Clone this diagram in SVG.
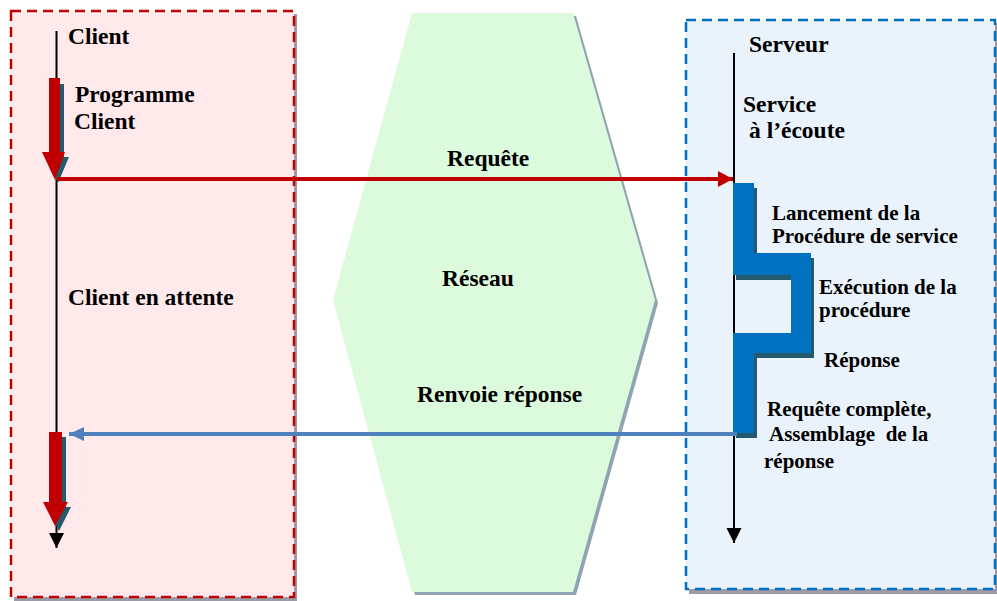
<svg xmlns="http://www.w3.org/2000/svg" width="997" height="601" viewBox="0 0 997 601">
<defs>
<style>
.big{font-size:23.5px}
.sm{font-size:21px}
.shadow{fill:#9d9aa8}
</style>
<marker id="redHead" markerUnits="userSpaceOnUse" markerWidth="16" markerHeight="16" refX="15" refY="8" orient="auto">
<path d="M0,0 L15,8 L0,16 Z" fill="#c00000"/>
</marker>
<marker id="blueHead" markerUnits="userSpaceOnUse" markerWidth="16" markerHeight="16" refX="15" refY="7" orient="auto">
<path d="M0,0 L15,7 L0,14 Z" fill="#4f81bd"/>
</marker>
<marker id="blackHead" markerUnits="userSpaceOnUse" markerWidth="16" markerHeight="16" refX="15" refY="7.5" orient="auto">
<path d="M0,0 L15,7.5 L0,15 Z" fill="#000"/>
</marker>
</defs>

<g id="client-zone">
<rect class="shadow" x="14" y="14" width="283" height="587"/>
<rect x="11" y="11" width="283" height="586" fill="#ffe9ea" stroke="#c00000" stroke-width="2.5" stroke-dasharray="10,6"/>
</g>

<g id="reseau">
<polygon points="415,16 576,16 658,303 576,595 415,595 336,303" fill="#8fa3b3"/>
<polygon points="412,13 573,13 655,300 573,592 412,592 333,300" fill="#dcfadc"/>
</g>

<g id="serveur-zone">
<rect class="shadow" x="689" y="23" width="309" height="571"/>
<rect x="686" y="20" width="309" height="569" fill="#eaf2fc" stroke="#0070c0" stroke-width="2.5" stroke-dasharray="10,6"/>
</g>

<g id="client-timeline">
<line x1="56.5" y1="31" x2="56.5" y2="548" stroke="#000" stroke-width="2" marker-end="url(#blackHead)"/>
<path d="M53,84 L64,84 L64,157 L69,157 L58,183 L46,157 L53,157 Z" fill="#245a6e"/>
<path d="M49,78 L60,78 L60,152 L65,152 L55,180 L42,152 L49,152 Z" fill="#c00000"/>
<path d="M53,437 L66,437 L66,507 L71,507 L59,531 L47,507 L53,507 Z" fill="#245a6e"/>
<path d="M49,432 L62,432 L62,502 L68,502 L55,526 L43,502 L49,502 Z" fill="#c00000"/>
</g>

<g id="serveur-timeline">
<line x1="734" y1="53" x2="734" y2="543" stroke="#000" stroke-width="2" marker-end="url(#blackHead)"/>
<path d="M736,188 L757,188 L757,258 L814,258 L814,358 L757,358 L757,438 L736,438 L736,338 L794,338 L794,280 L736,280 Z" fill="#245a6e"/>
<path d="M733,183 L754,183 L754,253 L811,253 L811,353 L754,353 L754,433 L733,433 L733,333 L791,333 L791,275 L733,275 Z" fill="#0070c0"/>
</g>

<g id="connectors">
<line x1="57" y1="179" x2="733" y2="179" stroke="#c00000" stroke-width="4" marker-end="url(#redHead)"/>
<line x1="737" y1="434" x2="69" y2="434" stroke="#4f81bd" stroke-width="4" marker-end="url(#blueHead)"/>
</g>

<g id="labels" font-family="Liberation Serif" font-weight="bold" fill="#000">
<text class="big" x="68" y="44">Client</text>
<text class="big" x="75" y="102">Programme</text>
<text class="big" x="74" y="129">Client</text>
<text class="big" x="68" y="305">Client en attente</text>
<text class="big" x="447" y="166">Requête</text>
<text class="big" x="442" y="286">Réseau</text>
<text class="big" x="417" y="402">Renvoie réponse</text>
<text class="big" x="749" y="52">Serveur</text>
<text class="big" x="743" y="112">Service</text>
<text class="big" x="749" y="138">à l’écoute</text>
<text class="sm" x="772" y="220">Lancement de la</text>
<text class="sm" x="772" y="243">Procédure de service</text>
<text class="sm" x="819" y="294">Exécution de la</text>
<text class="sm" x="819" y="317">procédure</text>
<text class="sm" x="824" y="367">Réponse</text>
<text class="sm" x="767" y="416">Requête complète,</text>
<text class="sm" x="769" y="441" xml:space="preserve">Assemblage  de la</text>
<text class="sm" x="764" y="468">réponse</text>
</g>
</svg>
